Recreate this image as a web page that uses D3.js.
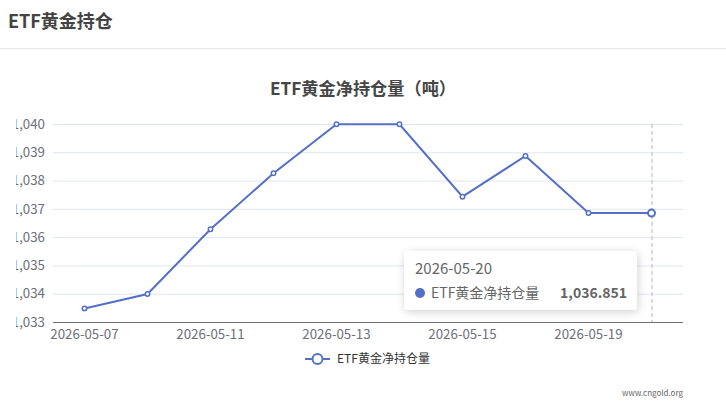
<!DOCTYPE html>
<html><head><meta charset="utf-8">
<script src="https://cdn.jsdelivr.net/npm/d3@7/dist/d3.min.js"></script>
<style>
body{margin:0;background:#fff;font-family:"Microsoft YaHei","Noto Sans CJK SC",sans-serif;}
svg{display:block}
</style></head><body>
<svg id="c" width="726" height="406"></svg>
<script>
const dates = ["2026-05-07","2026-05-08","2026-05-11","2026-05-12","2026-05-13","2026-05-14","2026-05-15","2026-05-18","2026-05-19","2026-05-20"];
const holdings = [1033.48, 1033.99, 1036.28, 1038.26, 1039.99, 1039.99, 1037.43, 1038.87, 1036.851, 1036.851];
const yTicks = [1033,1034,1035,1036,1037,1038,1039,1040];
const seriesName = "ETF黄金净持仓量";
const hoverIndex = 9;

const svg = d3.select("#c");
const font = '"Microsoft YaHei","Noto Sans CJK SC",sans-serif';
const blue = "#5470c6";

const defs = svg.append("defs");
defs.append("clipPath").attr("id","yclip").append("rect").attr("x",16).attr("y",0).attr("width",726).attr("height",406);

// header
svg.append("text").attr("x",8).attr("y",28).text("ETF黄金持仓")
  .attr("font-size",18).attr("font-weight","bold").attr("fill","#444").attr("font-family",font);
svg.append("line").attr("x1",0).attr("x2",726).attr("y1",48.5).attr("y2",48.5).attr("stroke","#e6e6e6");

// title
svg.append("text").attr("x",363).attr("y",95).attr("text-anchor","middle").text("ETF黄金净持仓量（吨）")
  .attr("font-size",17.2).attr("font-weight","bold").attr("fill","#464646").attr("font-family",font);

const L=53, R=683, T=124, B=322;
const x = d3.scaleBand().domain(dates).range([L,R]);
const y = d3.scaleLinear().domain([1033,1040]).range([B,T]);

// grid
const yAxis = d3.axisLeft(y).tickValues(yTicks).tickSize(-(R-L)).tickFormat(d3.format(",")).tickPadding(8);
const gyWrap = svg.append("g").attr("clip-path","url(#yclip)");
const gy = gyWrap.append("g").attr("transform",`translate(${L},0)`).call(yAxis);
gy.select(".domain").remove();
gy.selectAll(".tick line").attr("stroke","#e0e6f1");
gy.selectAll(".tick text").attr("fill","#6e7079").attr("font-size",13.3).attr("font-family",font);

const xAxis = d3.axisBottom(x).tickValues(dates.filter((d,i)=>i%2===0)).tickSize(0).tickPadding(8);
const gx = svg.append("g").attr("transform",`translate(0,${B})`).call(xAxis);
gx.select(".domain").attr("stroke","#6e7079").attr("d",`M${L},0.5H${R}`);
gx.selectAll(".tick text").attr("fill","#6e7079").attr("font-size",13.3).attr("font-family",font);

// axis pointer
const hx = x(dates[hoverIndex]) + x.bandwidth()/2;
svg.append("line").attr("x1",hx+0.5).attr("x2",hx+0.5).attr("y1",T).attr("y2",B)
  .attr("stroke","#b6b6b6").attr("stroke-dasharray","4,3");

// line
const cx = d => x(d) + x.bandwidth()/2;
svg.append("path").datum(holdings)
  .attr("d", d3.line().x((d,i)=>cx(dates[i])).y(d=>y(d)))
  .attr("fill","none").attr("stroke",blue).attr("stroke-width",2);
svg.selectAll("circle.pt").data(holdings).enter().append("circle")
  .attr("cx",(d,i)=>cx(dates[i])).attr("cy",d=>y(d))
  .attr("r",(d,i)=>i===hoverIndex?3.5:2.2)
  .attr("fill","#fff").attr("stroke",blue).attr("stroke-width",(d,i)=>i===hoverIndex?2:1.5);

// tooltip
const f = defs.append("filter").attr("id","sh").attr("x","-20%").attr("y","-30%").attr("width","140%").attr("height","160%");
f.append("feDropShadow").attr("dx",1).attr("dy",2).attr("stdDeviation",4).attr("flood-color","#000").attr("flood-opacity",0.18);
const tg = svg.append("g").attr("transform","translate(404,251)");
tg.append("rect").attr("width",233).attr("height",59).attr("rx",4).attr("fill","#fff").attr("filter","url(#sh)");
tg.append("text").attr("x",11).attr("y",23).text(dates[hoverIndex]).attr("font-size",15).attr("fill","#666").attr("font-family",font);
tg.append("circle").attr("cx",16).attr("cy",42).attr("r",5).attr("fill",blue);
tg.append("text").attr("x",27).attr("y",47).text(seriesName).attr("font-size",14).attr("fill","#666").attr("font-family",font);
tg.append("text").attr("x",223).attr("y",47).attr("text-anchor","end").text(d3.format(",.3f")(holdings[hoverIndex]))
  .attr("font-size",14).attr("font-weight","bold").attr("fill","#666").attr("font-family",font);

// legend
const lg = svg.append("g").attr("transform","translate(305,359)");
lg.append("line").attr("x1",0).attr("x2",25).attr("y1",0).attr("y2",0).attr("stroke",blue).attr("stroke-width",2);
lg.append("circle").attr("cx",12.5).attr("cy",0).attr("r",5).attr("fill","#fff").attr("stroke",blue).attr("stroke-width",2);
lg.append("text").attr("x",32).attr("y",4).text(seriesName).attr("font-size",12).attr("fill","#333").attr("font-family",font);

// watermark
svg.append("text").attr("x",683).attr("y",396).attr("text-anchor","end").text("www.cngold.org")
  .attr("font-size",8).attr("fill","#666").attr("font-family",font);
</script>
</body></html>
